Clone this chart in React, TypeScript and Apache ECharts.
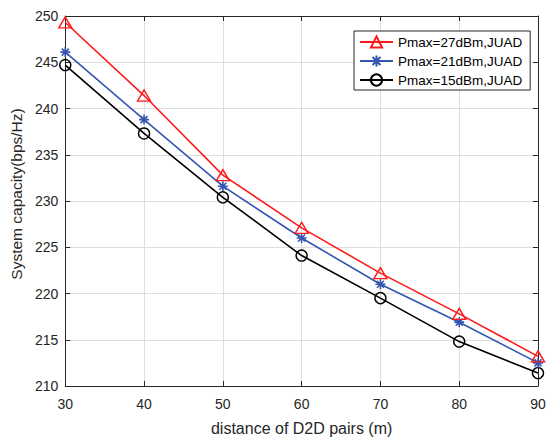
import React, { useEffect, useRef } from "react";
import * as echarts from "echarts";

const distances = ["30", "40", "50", "60", "70", "80", "90"];
const xValues = [30, 40, 50, 60, 70, 80, 90];
const pmax27 = [249.3, 241.4, 232.8, 227.1, 222.2, 217.8, 213.2];
const pmax21 = [246.1, 238.8, 231.6, 226.0, 221.0, 216.9, 212.5];
const pmax15 = [244.7, 237.3, 230.4, 224.1, 219.5, 214.8, 211.4];
const seriesNames = ["Pmax=27dBm,JUAD", "Pmax=21dBm,JUAD", "Pmax=15dBm,JUAD"];

const FONT = "'Liberation Sans', Arial, Helvetica, sans-serif";
const TXT = "#262626";
const ASTERISK = "path://M0,5L10,5M5,0L5,10M1.5,1.5L8.5,8.5M8.5,1.5L1.5,8.5";

const pairs = (ys: number[]) => xValues.map((x, i) => [x, ys[i]]);

export default function App() {
  const ref = useRef<HTMLDivElement>(null);
  useEffect(() => {
    if (!ref.current) return;
    const chart = echarts.init(ref.current, undefined, { renderer: "svg" });
    const axisLine = { show: true, lineStyle: { color: TXT, width: 1 } };
    chart.setOption({
      animation: false,
      backgroundColor: "#fff",
      textStyle: { fontFamily: FONT },
      grid: { left: 62, right: 12, top: 16, bottom: 49 },
      legend: {
        orient: "vertical",
        left: 354,
        top: 31,
        padding: [4, 8, 3, 5],
        itemGap: 5,
        itemWidth: 33,
        itemHeight: 14,
        borderColor: TXT,
        borderWidth: 1,
        borderRadius: 0,
        backgroundColor: "#fff",
        textStyle: { fontFamily: FONT, fontSize: 13.5, color: "#000" },
        data: seriesNames,
      },
      xAxis: [
        {
          type: "value",
          min: 30,
          max: 90,
          interval: 10,
          name: "distance of D2D pairs (m)",
          nameLocation: "middle",
          nameGap: 34,
          nameTextStyle: { fontFamily: FONT, fontSize: 16, color: TXT },
          axisLine,
          axisTick: { show: true, inside: true, length: 5, lineStyle: { color: TXT } },
          axisLabel: {
            fontFamily: FONT,
            fontSize: 14,
            color: TXT,
            margin: 11,
            formatter: (v: number) => distances[xValues.indexOf(v)] ?? String(v),
          },
          splitLine: { show: true, lineStyle: { color: "#dedede", width: 1 } },
        },
        {
          type: "value",
          position: "top",
          min: 30,
          max: 90,
          interval: 10,
          axisLine,
          axisTick: { show: true, inside: true, length: 5, lineStyle: { color: TXT } },
          axisLabel: { show: false },
          splitLine: { show: false },
        },
      ],
      yAxis: [
        {
          type: "value",
          min: 210,
          max: 250,
          interval: 5,
          name: "System capacity(bps/Hz)",
          nameLocation: "middle",
          nameGap: 37,
          nameTextStyle: { fontFamily: FONT, fontSize: 15.5, color: TXT, padding: [0, 0, 0, 14] },
          axisLine,
          axisTick: { show: true, inside: true, length: 5, lineStyle: { color: TXT } },
          axisLabel: { fontFamily: FONT, fontSize: 14, color: TXT, margin: 7 },
          splitLine: { show: true, lineStyle: { color: "#dedede", width: 1 } },
        },
        {
          type: "value",
          position: "right",
          min: 210,
          max: 250,
          interval: 5,
          axisLine,
          axisTick: { show: true, inside: true, length: 5, lineStyle: { color: TXT } },
          axisLabel: { show: false },
          splitLine: { show: false },
        },
      ],
      series: [
        {
          name: seriesNames[0],
          type: "line",
          data: pairs(pmax27),
          symbol: "triangle",
          symbolSize: [13, 11],
          showAllSymbol: true,
          lineStyle: { color: "#ff1a1a", width: 1.6 },
          itemStyle: { color: "rgba(255,255,255,0)", borderColor: "#ff1a1a", borderWidth: 1.4 },
          z: 3,
        },
        {
          name: seriesNames[1],
          type: "line",
          data: pairs(pmax21),
          symbol: ASTERISK,
          symbolSize: 10,
          showAllSymbol: true,
          lineStyle: { color: "#3555b0", width: 1.6 },
          itemStyle: { color: "rgba(255,255,255,0)", borderColor: "#3555b0", borderWidth: 1.6 },
          z: 2,
        },
        {
          name: seriesNames[2],
          type: "line",
          data: pairs(pmax15),
          symbol: "circle",
          symbolSize: 11,
          showAllSymbol: true,
          lineStyle: { color: "#000", width: 1.6 },
          itemStyle: { color: "rgba(255,255,255,0)", borderColor: "#000", borderWidth: 1.4 },
          z: 1,
        },
      ],
    });
    return () => chart.dispose();
  }, []);
  return (
    <div
      ref={ref}
      style={{ position: "absolute", left: 0, top: 0, width: 550, height: 441 }}
    />
  );
}
